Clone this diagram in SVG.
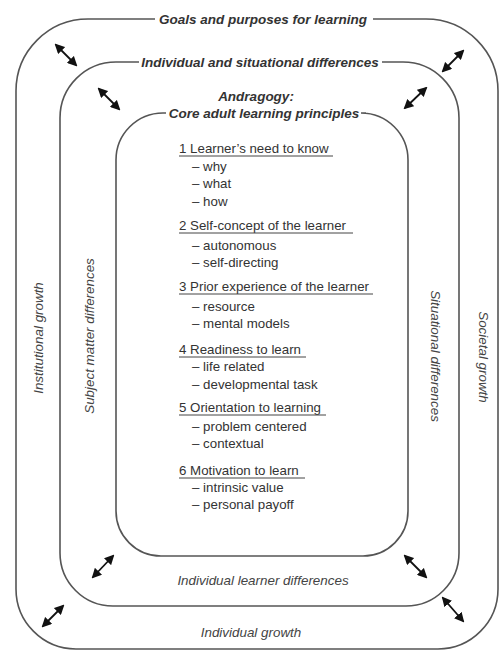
<svg xmlns="http://www.w3.org/2000/svg" width="501" height="651" viewBox="0 0 501 651">
<style>
.frame{fill:none;stroke:#555;stroke-width:1.6}
.lbl{font-family:"Liberation Sans",Arial,sans-serif;font-style:italic;font-weight:bold;font-size:13.5px;fill:#333;text-anchor:middle}
.side{font-family:"Liberation Sans",Arial,sans-serif;font-style:italic;font-size:13.4px;fill:#444;text-anchor:middle}
.item{font-family:"Liberation Sans",Arial,sans-serif;font-size:13.3px;fill:#333}
.ul{stroke:#444;stroke-width:1}
.arr{stroke:#111;stroke-width:1.8;marker-start:url(#ah);marker-end:url(#ah)}
</style>
<defs>
<marker id="ah" viewBox="0 0 10 10" refX="8" refY="5" markerWidth="5.5" markerHeight="5.5" orient="auto-start-reverse" markerUnits="strokeWidth">
<path d="M0,0 L10,5 L0,10 Z" fill="#111"/>
</marker>
</defs>
<g id="outer-frame">
<path class="frame" d="M373,19 H426 A72,72 0 0 1 498,91 V589 A60,60 0 0 1 438,649 H76 A60,60 0 0 1 16,589 V91 A72,72 0 0 1 88,19 H155"/>
<text class="lbl" x="263" y="24">Goals and purposes for learning</text>
<text class="side" x="251" y="637">Individual growth</text>
<text class="side" transform="translate(43,338) rotate(-90)">Institutional growth</text>
<text class="side" transform="translate(479,357) rotate(90)">Societal growth</text>
</g>
<g id="middle-frame">
<path class="frame" d="M382,62 H403 A56,56 0 0 1 459,118 V553 A53,53 0 0 1 406,606 H113 A53,53 0 0 1 60,553 V118 A56,56 0 0 1 116,62 H139"/>
<text class="lbl" x="260" y="67">Individual and situational differences</text>
<text class="side" x="263" y="585">Individual learner differences</text>
<text class="side" transform="translate(94,336) rotate(-90)">Subject matter differences</text>
<text class="side" transform="translate(431,356) rotate(90)">Situational differences</text>
</g>
<g id="inner-frame">
<path class="frame" d="M366,113 H361 A47,47 0 0 1 408,160 V511 A45,45 0 0 1 363,556 H161 A45,45 0 0 1 116,511 V160 A47,47 0 0 1 163,113 H166"/>
<text class="lbl" x="256" y="101">Andragogy:</text>
<text class="lbl" x="264" y="118">Core adult learning principles</text>
</g>
<g id="principles">
<text class="item" x="179" y="153">1 Learner’s need to know</text>
<line class="ul" x1="179" y1="156" x2="333" y2="156"/>
<text class="item" x="192" y="171">– why</text>
<text class="item" x="192" y="188">– what</text>
<text class="item" x="192" y="206">– how</text>
<text class="item" x="179" y="230">2 Self-concept of the learner</text>
<line class="ul" x1="179" y1="233" x2="353" y2="233"/>
<text class="item" x="192" y="250">– autonomous</text>
<text class="item" x="192" y="267">– self-directing</text>
<text class="item" x="179" y="291">3 Prior experience of the learner</text>
<line class="ul" x1="179" y1="294" x2="373" y2="294"/>
<text class="item" x="192" y="311">– resource</text>
<text class="item" x="192" y="328">– mental models</text>
<text class="item" x="179" y="354">4 Readiness to learn</text>
<line class="ul" x1="179" y1="357" x2="306" y2="357"/>
<text class="item" x="192" y="371">– life related</text>
<text class="item" x="192" y="389">– developmental task</text>
<text class="item" x="179" y="412">5 Orientation to learning</text>
<line class="ul" x1="179" y1="415" x2="326" y2="415"/>
<text class="item" x="192" y="431">– problem centered</text>
<text class="item" x="192" y="448">– contextual</text>
<text class="item" x="179" y="475">6 Motivation to learn</text>
<line class="ul" x1="179" y1="478" x2="305" y2="478"/>
<text class="item" x="192" y="492">– intrinsic value</text>
<text class="item" x="192" y="509">– personal payoff</text>
</g>
<g id="connectors">
<line class="arr" x1="56" y1="45" x2="76" y2="65"/>
<line class="arr" x1="99" y1="89" x2="119" y2="109"/>
<line class="arr" x1="443" y1="71" x2="463" y2="51"/>
<line class="arr" x1="405" y1="108" x2="426" y2="88"/>
<line class="arr" x1="93" y1="577" x2="113" y2="556"/>
<line class="arr" x1="43" y1="626" x2="63" y2="606"/>
<line class="arr" x1="405" y1="556" x2="426" y2="577"/>
<line class="arr" x1="443" y1="598" x2="463" y2="621"/>
</g>
</svg>
